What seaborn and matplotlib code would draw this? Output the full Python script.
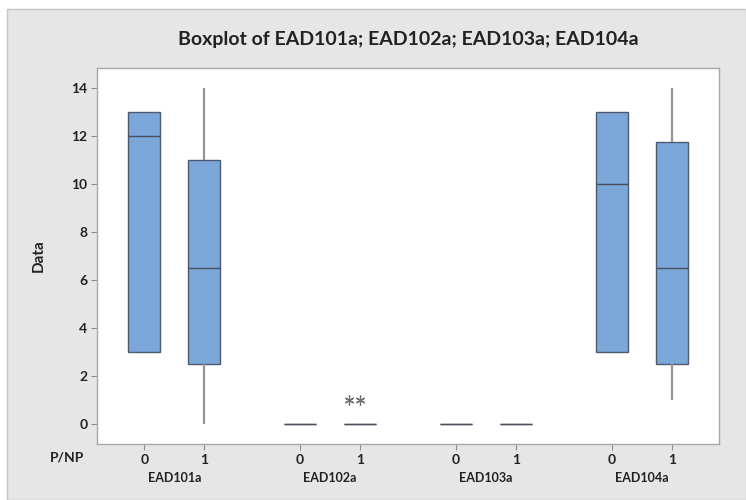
import matplotlib
matplotlib.use("Agg")
import matplotlib.pyplot as plt
from matplotlib.patches import Rectangle
import matplotlib.transforms as mtransforms
import numpy as np
import pandas as pd
import seaborn as sns

# ---- data ----
groups = ["EAD101a", "EAD102a", "EAD103a", "EAD104a"]
levels = ["0", "1"]
ead101a_0 = [3, 3, 12, 13, 13]
ead101a_1 = [0, 2.5, 6.5, 11, 14]
ead102a_0 = [0, 0, 0, 0, 0]
ead102a_1 = [0, 0, 0, 0, 0, 0, 0, 0, 1, 1]
ead103a_0 = [0, 0, 0, 0, 0]
ead103a_1 = [0, 0, 0, 0, 0]
ead104a_0 = [3, 3, 10, 13, 13]
ead104a_1 = [1, 2.5, 6.5, 11.75, 14]
y_ticks = [0, 2, 4, 6, 8, 10, 12, 14]

series = [
    [ead101a_0, ead101a_1],
    [ead102a_0, ead102a_1],
    [ead103a_0, ead103a_1],
    [ead104a_0, ead104a_1],
]

GROUP_STEP = 2.6
rows = []
out_rows = []
tick_pos = []
tick_lab = []
for g, pair in enumerate(series):
    for l, vals in enumerate(pair):
        pos = g * GROUP_STEP + l
        tick_pos.append(pos)
        tick_lab.append(levels[l])
        arr = np.asarray(vals, dtype=float)
        q1, q3 = np.percentile(arr, [25, 75])
        iqr = q3 - q1
        for v in arr:
            rows.append({"pos": pos, "value": v})
            if v > q3 + 1.5 * iqr or v < q1 - 1.5 * iqr:
                out_rows.append({"pos": pos, "value": v})
df = pd.DataFrame(rows)
df_out = pd.DataFrame(out_rows)

sns.set_theme(style="white")
plt.rcParams["font.family"] = ["Lato", "DejaVu Sans"]

fig = plt.figure(figsize=(7.46, 5.0), dpi=100, facecolor="white")
# outer grey panel
bg = Rectangle((7 / 746, 0), 1 - 7 / 746, 1 - 9 / 500,
               transform=fig.transFigure, facecolor="#E6E6E6",
               edgecolor="#C4C4C4", linewidth=1.0, zorder=-10)
fig.patches.append(bg)
ax = fig.add_axes([97 / 746, 56 / 500, 622 / 746, 376 / 500])
ax.set_zorder(5)
ax.set_facecolor("white")

sns.boxplot(data=df, x="pos", y="value", native_scale=True, ax=ax,
            width=0.53, color="#7BA7D9", saturation=1, fill=True,
            linecolor="#4E5A72", linewidth=1.0, showcaps=False,
            showfliers=False, whis=1.5,
            whiskerprops=dict(color="#949494", linewidth=1.6),
            medianprops=dict(color="#4A4F5C", linewidth=1.0))

sns.swarmplot(data=df_out, x="pos", y="value", native_scale=True, ax=ax,
              marker=(6, 2, 0), size=6.5, color="#6E6E6E", linewidth=0.9)

ax.set_xlim(-0.79, 3 * GROUP_STEP + 1 + 0.79)
ax.set_ylim(-0.83, 14.83)
ax.set_yticks(y_ticks)
ax.set_yticklabels([str(t) for t in y_ticks], fontsize=10, fontweight="bold",
                   color="#222222")
ax.set_xticks(tick_pos)
ax.set_xticklabels(tick_lab, fontsize=10, fontweight="bold", color="#222222")
ax.tick_params(axis="both", which="both", direction="out", length=4,
               width=0.8, color="#8E8E8E", left=True, bottom=True, pad=3)
ax.set_xlabel("")
ax.set_ylabel("Data", fontsize=11, fontweight="bold", color="#222222",
              labelpad=18)
for s in ax.spines.values():
    s.set_color("#A8A8A8")
    s.set_linewidth(1.0)

trans = mtransforms.blended_transform_factory(ax.transData, fig.transFigure)
for g, name in enumerate(groups):
    ax.text(g * GROUP_STEP + 0.5, 1 - 478 / 500, name, transform=trans,
            ha="center", va="center", fontsize=9, fontweight="bold",
            color="#222222", clip_on=False)
fig.text(67 / 746, 1 - 457 / 500, "P/NP", ha="center", va="center",
         fontsize=10, fontweight="bold", color="#222222")

fig.text(408 / 746, 1 - 40 / 500, "Boxplot of EAD101a; EAD102a; EAD103a; EAD104a",
         ha="center", va="center", fontsize=14, fontweight="bold",
         color="#222222")

fig.savefig("out.png", dpi=100, facecolor="white")
